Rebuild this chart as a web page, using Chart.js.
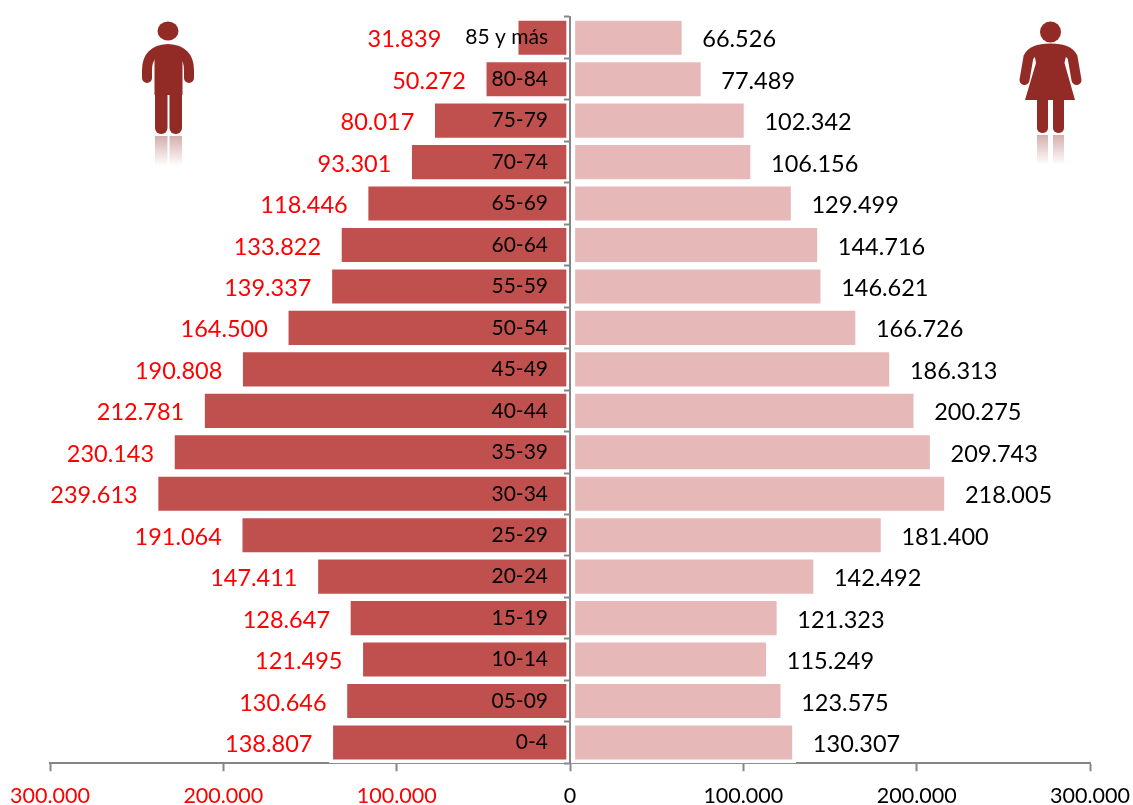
<!DOCTYPE html>
<html><head><meta charset="utf-8">
<style>html,body{margin:0;padding:0;background:#fff;overflow:hidden}#w{position:relative;width:1133px;height:805px}canvas{position:absolute;left:0;top:0}svg{position:absolute;left:0;top:0;pointer-events:none}</style>
<script src="https://cdn.jsdelivr.net/npm/chart.js@4"></script></head><body>
<div id="w"><canvas id="c" width="1133" height="805"></canvas>
<svg width="1133" height="805" viewBox="0 0 1133 805">
<defs>
<linearGradient id="r" x1="0" y1="0" x2="0" y2="1"><stop offset="0" stop-color="#922B26" stop-opacity=".38"/><stop offset="1" stop-color="#922B26" stop-opacity="0"/></linearGradient>
</defs>
<g fill="#922B26">
<ellipse cx="168" cy="31" rx="10.5" ry="9.5"/>
<path d="M147 78V70Q147 50 168 49Q189 50 189 70V78" fill="none" stroke="#922B26" stroke-width="10" stroke-linecap="round"/>
<rect x="154.500" y="50" width="28" height="45"/>
<rect x="155" y="85" width="12.500" height="49" rx="6"/><rect x="169.500" y="85" width="12.500" height="49" rx="6"/>
<circle cx="1050.500" cy="32" r="10.500"/>
<path d="M1024.500 80L1028.500 57Q1033 48.500 1050.500 48.500Q1068 48.500 1072.500 57L1076.500 80" fill="none" stroke="#922B26" stroke-width="10" stroke-linecap="round"/>
<path d="M1034 52H1067L1064.500 63L1075 100H1025L1036 63Z"/>
<rect x="1037" y="95" width="11" height="38" rx="5"/><rect x="1053" y="95" width="11" height="38" rx="5"/>
</g>
<rect x="155" y="136" width="12.500" height="30" fill="url(#r)"/><rect x="169.500" y="136" width="12.500" height="30" fill="url(#r)"/>
<rect x="1037" y="135" width="11" height="30" fill="url(#r)"/><rect x="1053" y="135" width="11" height="30" fill="url(#r)"/>
</svg></div>
<script>
const categories = ['85 y más','80-84','75-79','70-74','65-69','60-64','55-59','50-54','45-49','40-44','35-39','30-34','25-29','20-24','15-19','10-14','05-09','0-4'];
const hombres = [31839,50272,80017,93301,118446,133822,139337,164500,190808,212781,230143,239613,191064,147411,128647,121495,130646,138807];
const mujeres = [66526,77489,102342,106156,129499,144716,146621,166726,186313,200275,209743,218005,181400,142492,121323,115249,123575,130307];
const FONT = 'Lato, Carlito, Calibri, sans-serif';
const fmt = v => Math.abs(v).toString().replace(/\B(?=(\d{3})+$)/g,'.');
const noPad = s => { s.paddingTop=s.paddingBottom=s.paddingLeft=s.paddingRight=0; };

const labelsPlugin = {
  id:'barLabels',
  afterDatasetsDraw(chart){
    const ctx = chart.ctx; ctx.save();
    ctx.textBaseline='middle';
    const y0 = chart.scales.x.getPixelForValue(0);
    const catRight = y0 - 22;
    chart.data.datasets.forEach((ds,di)=>{
      chart.getDatasetMeta(di).data.forEach((bar,i)=>{
        const txt = fmt(ds.data[i]);
        if(di===0){
          ctx.font = '21px '+FONT;
          ctx.fillStyle='#000'; ctx.textAlign='right';
          ctx.fillText(categories[i],catRight,bar.y);
          const catLeft = catRight - ctx.measureText(categories[i]).width;
          ctx.font = '23.5px '+FONT;
          ctx.fillStyle='#FF0000';
          let right = bar.x - 17;
          // la etiqueta se aparta si chocaría con el rótulo de categoría
          if(right > catLeft - 24) right = catLeft - 24;
          ctx.fillText(txt,right,bar.y+2);
        } else {
          ctx.font = '23.5px '+FONT;
          ctx.fillStyle='#000'; ctx.textAlign='left';
          ctx.fillText(txt,bar.x+17,bar.y+2);
        }
      });
    });
    ctx.restore();
  }
};

new Chart(document.getElementById('c'),{
  type:'bar',
  plugins:[labelsPlugin],
  data:{labels:categories,datasets:[
    {label:'Hombres',data:hombres.map(v=>-v),backgroundColor:'#C0504D',borderColor:'#FFFFFF',borderSkipped:false,borderWidth:{left:4,right:3.5,top:4,bottom:4}},
    {label:'Mujeres',data:mujeres,backgroundColor:'#E6B9B8',borderColor:'#FFFFFF',borderSkipped:false,borderWidth:{left:5,right:4,top:4,bottom:4}}
  ]},
  options:{
    indexAxis:'y',responsive:false,animation:false,
    layout:{padding:{left:50,right:43,top:17,bottom:-16}},
    plugins:{legend:{display:false},tooltip:{enabled:false},title:{display:false}},
    scales:{
      x:{type:'linear',min:-300000,max:300000,stacked:true,afterFit:noPad,
        border:{color:'#868686',width:2},
        grid:{drawOnChartArea:false,drawTicks:true,tickLength:8,color:'#868686',tickWidth:2},
        ticks:{stepSize:100000,maxRotation:0,autoSkip:false,padding:12,font:{family:FONT,size:21.5},
          color:c=>c.tick.value<0?'#FF0000':'#000',callback:v=>fmt(v)}},
      y:{type:'category',stacked:true,position:{x:0},afterFit:noPad,
        border:{color:'#868686',width:2,z:1},
        grid:{drawOnChartArea:false,drawTicks:true,tickLength:5,color:'#868686',tickWidth:2,z:1},
        ticks:{display:false}}
    },
    datasets:{bar:{categoryPercentage:1,barPercentage:1}}
  }
});
</script></body></html>
